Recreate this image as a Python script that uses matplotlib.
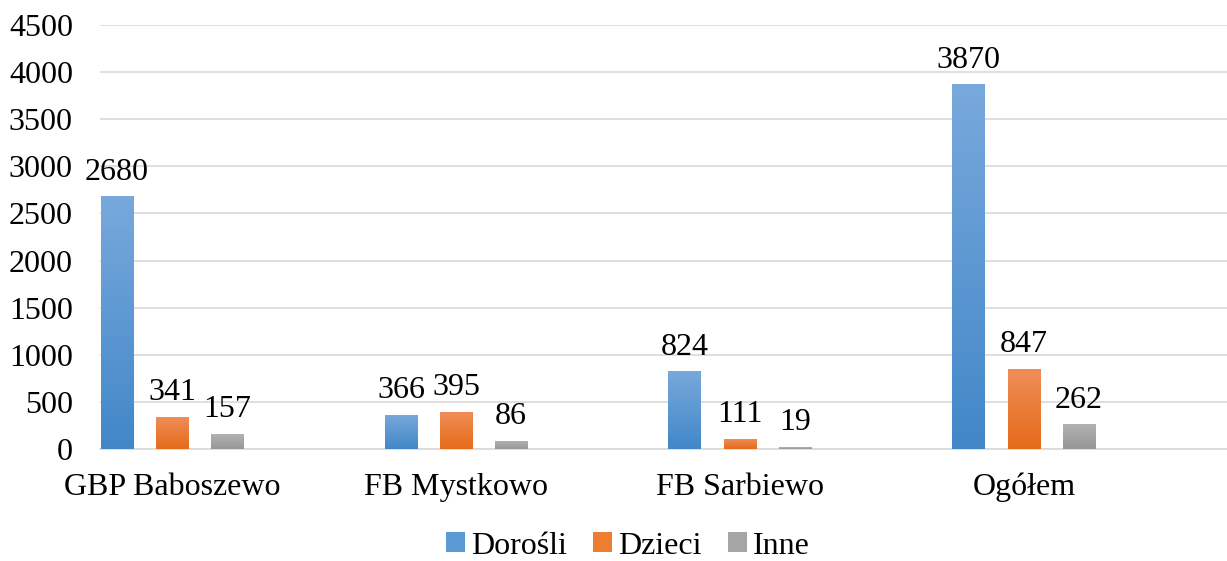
"""Grouped bar chart: Dorośli / Dzieci / Inne per location."""
import matplotlib

matplotlib.use("Agg")
import matplotlib.pyplot as plt  # noqa: E402
import numpy as np  # noqa: E402
from matplotlib.colors import LinearSegmentedColormap  # noqa: E402
from matplotlib.patches import Patch  # noqa: E402

categories = ["GBP Baboszewo", "FB Mystkowo", "FB Sarbiewo", "Ogółem"]
series_names = ["Dorośli", "Dzieci", "Inne"]
dorosli = [2680, 366, 824, 3870]
dzieci = [341, 395, 111, 847]
inne = [157, 86, 19, 262]
y_ticks = [0, 500, 1000, 1500, 2000, 2500, 3000, 3500, 4000, 4500]

# (top colour, bottom colour, legend colour) per series
gradients = [
    ("#78a9dc", "#4287c8", "#5b9bd5"),
    ("#f08e58", "#e56b1a", "#ed7d31"),
    ("#b2b2b2", "#979797", "#a5a5a5"),
]

plt.rcParams["font.family"] = ["Liberation Serif", "DejaVu Serif"]
FS = 23

fig = plt.figure(figsize=(12.27, 5.61), dpi=100)
W, H = 1227, 561
ax = fig.add_axes([100 / W, (H - 449) / H, (W - 100) / W, (449 - 25) / H])

x = np.arange(len(categories))
width = 0.116
step = 0.194
grad = np.linspace(0, 1, 256).reshape(-1, 1)

for i, (vals, (top, bot, _)) in enumerate(zip([dorosli, dzieci, inne], gradients)):
    cmap = LinearSegmentedColormap.from_list(f"g{i}", [bot, top])
    offs = (i - 1) * step
    bars = ax.bar(x + offs, vals, width, color=top, zorder=2, linewidth=0)
    for b, v in zip(bars, vals):
        x0, w = b.get_x(), b.get_width()
        im = ax.imshow(grad, cmap=cmap, aspect="auto", origin="lower",
                       extent=(x0, x0 + w, 0, v), zorder=3)
        im.set_clip_path(b)
        ax.annotate(str(v), (x0 + w / 2, v), xytext=(0, 7),
                    textcoords="offset points", ha="center", va="bottom",
                    fontsize=FS, zorder=4)

ax.set_xlim(-0.254, 3.715)
ax.set_ylim(0, 4500)
ax.set_yticks(y_ticks)
ax.set_xticks(x)
ax.set_xticklabels(categories)
ax.tick_params(axis="both", length=0, labelsize=FS)
ax.tick_params(axis="x", pad=17)
ax.tick_params(axis="y", pad=19.5)
ax.grid(axis="y", color="#d9d9d9", linewidth=1.2, zorder=0)
ax.set_axisbelow(True)
for side in ["top", "right", "left"]:
    ax.spines[side].set_visible(False)
ax.spines["bottom"].set_color("#d9d9d9")
ax.spines["bottom"].set_linewidth(1.2)

handles = [Patch(facecolor=g[2], label=n) for n, g in zip(series_names, gradients)]
fig.legend(handles=handles, loc="center", bbox_to_anchor=(628 / W, 15 / H),
           ncol=3, frameon=False, fontsize=FS, handlelength=0.6,
           handleheight=0.6, handletextpad=0.2, columnspacing=0.8,
           borderaxespad=0, borderpad=0.0)

fig.savefig("out.png", dpi=100)
